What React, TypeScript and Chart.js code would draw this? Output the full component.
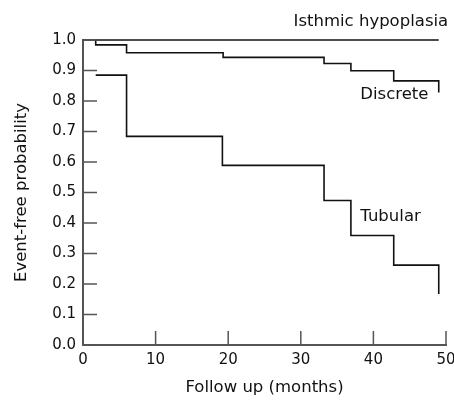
import React, { useEffect, useRef } from "react";
import { Chart, registerables } from "chart.js";

Chart.register(...registerables);

// Kaplan-Meier step data: [months, event-free probability]
const isthmicTimes = [0, 49];
const isthmicValues = [1.0, 1.0];

const discreteTimes = [1.75, 1.75, 6.0, 19.3, 33.2, 36.9, 42.8, 49.0];
const discreteValues = [1.0, 0.984, 0.958, 0.943, 0.923, 0.899, 0.866, 0.828];

const tubularTimes = [1.75, 6.0, 19.2, 33.2, 36.9, 42.8, 49.0];
const tubularValues = [0.885, 0.684, 0.589, 0.474, 0.359, 0.262, 0.167];

const curveLabels = ["Isthmic hypoplasia", "Discrete", "Tubular"];
const labelX = [50.3, 38.2, 38.2];
const labelY = [1.059, 0.82, 0.42];
const labelAlign = ["right", "left", "left"];

const xTitle = "Follow up (months)";
const yTitle = "Event-free probability";

const FONT = "'DejaVu Sans', sans-serif";
const AXIS_COLOR = "#555";
const LINE_COLOR = "#111";

const toPoints = (xs: number[], ys: number[]) => xs.map((x, i) => ({ x, y: ys[i] }));

const insideTicks = {
  id: "insideTicks",
  afterDatasetsDraw(chart: any) {
    const { ctx, scales, chartArea } = chart;
    ctx.save();
    ctx.strokeStyle = AXIS_COLOR;
    ctx.lineWidth = 1.5;
    const len = 14;
    scales.x.ticks.forEach((t: any) => {
      const px = scales.x.getPixelForValue(t.value);
      ctx.beginPath();
      ctx.moveTo(px, chartArea.bottom);
      ctx.lineTo(px, chartArea.bottom - len);
      ctx.stroke();
    });
    scales.y.ticks.forEach((t: any) => {
      const py = scales.y.getPixelForValue(t.value);
      ctx.beginPath();
      ctx.moveTo(chartArea.left, py);
      ctx.lineTo(chartArea.left + len, py);
      ctx.stroke();
    });
    ctx.restore();
  },
};

const curveText = {
  id: "curveText",
  afterDraw(chart: any) {
    const { ctx, scales } = chart;
    ctx.save();
    ctx.fillStyle = LINE_COLOR;
    ctx.font = `16.5px ${FONT}`;
    ctx.textBaseline = "middle";
    curveLabels.forEach((txt, i) => {
      ctx.textAlign = labelAlign[i];
      ctx.fillText(txt, scales.x.getPixelForValue(labelX[i]), scales.y.getPixelForValue(labelY[i]));
    });
    ctx.restore();
  },
};

export default function App() {
  const ref = useRef<HTMLCanvasElement>(null);
  useEffect(() => {
    if (!ref.current) return;
    const ds = (data: any) => ({
      data,
      borderColor: LINE_COLOR,
      borderWidth: 1.6,
      pointRadius: 0,
      stepped: "before" as const,
      fill: false,
      clip: false as any,
    });
    const chart = new Chart(ref.current, {
      type: "line",
      data: {
        datasets: [
          ds(toPoints(isthmicTimes, isthmicValues)),
          ds(toPoints(discreteTimes, discreteValues)),
          ds(toPoints(tubularTimes, tubularValues)),
        ],
      },
      options: {
        animation: false,
        responsive: false,
        maintainAspectRatio: false,
        layout: { padding: { left: 0, right: 32, top: 40, bottom: 0 } },
        plugins: { legend: { display: false }, tooltip: { enabled: false } },
        scales: {
          x: {
            type: "linear",
            min: 0,
            max: 50,
            afterFit: (s: any) => {
              s.height = 55;
            },
            ticks: {
              stepSize: 10,
              padding: 6,
              color: LINE_COLOR,
              font: { family: FONT, size: 15 },
            },
            grid: { drawOnChartArea: false, drawTicks: false },
            border: { color: AXIS_COLOR, width: 2 },
            title: {
              display: true,
              text: xTitle,
              color: LINE_COLOR,
              font: { family: FONT, size: 16.5 },
              padding: { top: 0, bottom: 2 },
            },
          },
          y: {
            type: "linear",
            min: 0,
            max: 1,
            afterFit: (s: any) => {
              s.width = 83;
            },
            ticks: {
              stepSize: 0.1,
              padding: 7,
              color: LINE_COLOR,
              font: { family: FONT, size: 15 },
              callback: (v: any) => Number(v).toFixed(1),
            },
            grid: { drawOnChartArea: false, drawTicks: false },
            border: { color: AXIS_COLOR, width: 2 },
            title: {
              display: true,
              text: yTitle,
              color: LINE_COLOR,
              font: { family: FONT, size: 16.5 },
              padding: { top: 12, bottom: 0 },
            },
          },
        },
      },
      plugins: [insideTicks, curveText],
    });
    return () => chart.destroy();
  }, []);
  return (
    <div style={{ position: "absolute", left: 0, top: 0, width: 454, height: 400, overflow: "hidden", background: "#fff" }}>
      <canvas ref={ref} width={478} height={400} style={{ display: "block" }} />
    </div>
  );
}
